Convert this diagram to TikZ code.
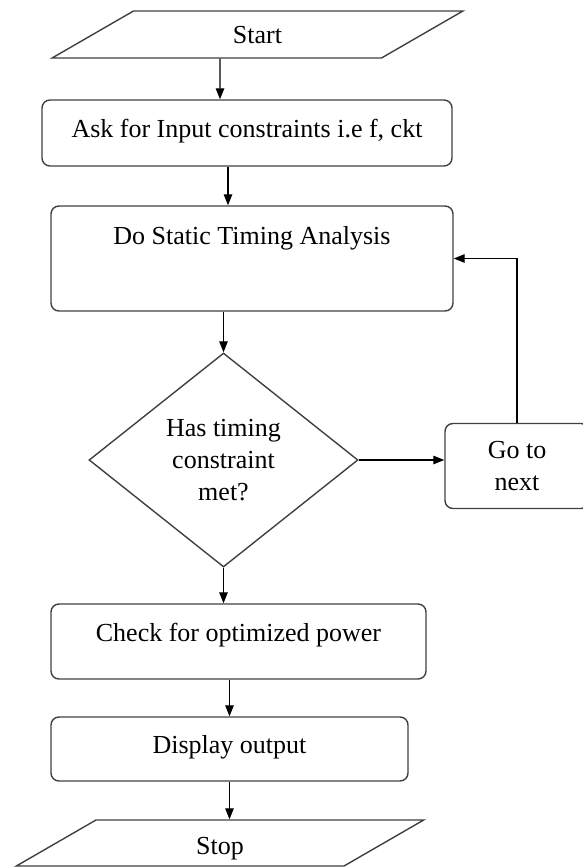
\documentclass[tikz,border=0pt]{standalone}
\usepackage{fontspec}
\setmainfont{Liberation Serif}
\usetikzlibrary{shapes.geometric}
\usetikzlibrary{arrows.meta}

\begin{document}
\begin{tikzpicture}[
            x=1pt, y=-1pt,
            font=\fontsize{26}{32}\selectfont,
            box/.style={rectangle, rounded corners=8pt, draw=black!75, line width=1.4pt, inner sep=0pt},
            io/.style={trapezium, trapezium left angle=30, trapezium right angle=150, draw=black!75, line width=1.4pt, inner sep=0pt, text width=248pt, align=center},
            decision/.style={diamond, draw=black!75, line width=1.4pt, inner sep=0pt, align=center},
            arr/.style={-{Triangle[length=11pt,width=8.5pt]}, line width=1.3pt},
            ]
            \useasboundingbox (0,0) rectangle (583,867);

            \node[io, text height=33pt, text depth=14pt] (start) at (257.5,34.5) {Start};
            \node[box, minimum width=410pt, text height=37pt, text depth=29pt] (ask) at (247,133) {Ask for Input constraints i.e f, ckt};
            \node[box, minimum width=402pt, text height=38pt, text depth=67pt] (sta) at (252,258.5) {Do Static Timing Analysis};
            \node[decision, minimum width=269pt, minimum height=214pt] (dec) at (223.5,460) {Has timing\\constraint\\met?};
            \node[box, minimum width=144pt, minimum height=85pt, align=center] (go) at (517,466) {Go to\\next};
            \node[box, minimum width=375pt, text height=37pt, text depth=38pt] (chk) at (238.5,641.5) {Check for optimized power};
            \node[box, minimum width=357pt, text height=36pt, text depth=28pt] (disp) at (229.5,749) {Display output};
            \node[io, text height=34pt, text depth=12pt] (stop) at (220,843) {Stop};

            \draw[arr] ([xshift=-37.5pt]start.south) -- ([xshift=-27pt]ask.north);
            \draw[arr] ([xshift=-19pt]ask.south) -- ([xshift=-24pt]sta.north);
            \draw[arr] (dec.north |- sta.south) -- (dec.north);
            \draw[arr] (dec.east) -- (go.west |- dec.east);
            \draw[arr] (go.north) |- (sta.east);
            \draw[arr] (dec.south) -- (dec.south |- chk.north);
            \draw[arr] (disp.north |- chk.south) -- (disp.north);
            \draw[arr] (disp.south) -- (disp.south |- stop.north);
        \end{tikzpicture}
\end{document}
